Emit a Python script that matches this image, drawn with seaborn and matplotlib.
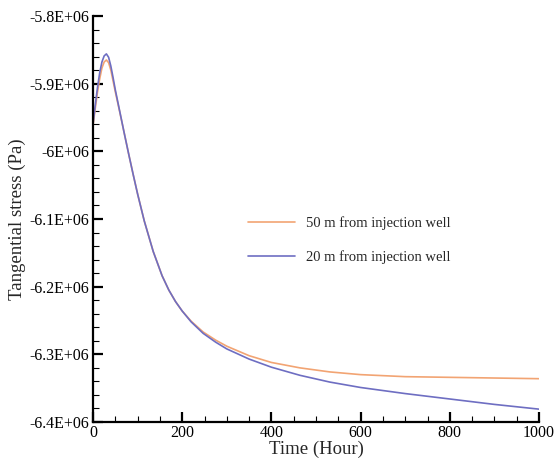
import numpy as np
import pandas as pd
import matplotlib
matplotlib.use("Agg")
import matplotlib.pyplot as plt
import seaborn as sns
from matplotlib.ticker import MultipleLocator

# values (time in hours, stress in Pa)
time_50m = [0, 5, 10, 15, 20, 25, 30, 35, 40, 45, 50, 60, 70, 80, 90, 100, 115, 135,
            155, 170, 185, 200, 220, 247, 275, 300, 350, 400, 464, 531, 600, 700, 800,
            900, 1000]
stress_50m = [-5.962e6, -5.937e6, -5.913e6, -5.893e6, -5.877e6, -5.868e6, -5.865e6,
              -5.869e6, -5.880e6, -5.896e6, -5.912e6, -5.942e6, -5.973e6, -6.004e6,
              -6.034e6, -6.063e6, -6.103e6, -6.148e6, -6.184e6, -6.205e6, -6.222e6,
              -6.236e6, -6.251e6, -6.267e6, -6.279e6, -6.288e6, -6.302e6, -6.312e6,
              -6.320e6, -6.326e6, -6.330e6, -6.333e6, -6.334e6, -6.335e6, -6.336e6]

time_20m = [0, 5, 10, 15, 20, 25, 30, 35, 40, 45, 50, 60, 70, 80, 90, 100, 115, 135,
            155, 170, 185, 200, 220, 247, 275, 300, 350, 400, 464, 531, 600, 700, 800,
            900, 1000]
stress_20m = [-5.960e6, -5.932e6, -5.906e6, -5.884e6, -5.868e6, -5.859e6, -5.856e6,
              -5.861e6, -5.874e6, -5.891e6, -5.909e6, -5.941e6, -5.973e6, -6.004e6,
              -6.034e6, -6.063e6, -6.103e6, -6.148e6, -6.184e6, -6.205e6, -6.222e6,
              -6.236e6, -6.252e6, -6.269e6, -6.282e6, -6.292e6, -6.307e6, -6.319e6,
              -6.331e6, -6.341e6, -6.349e6, -6.358e6, -6.366e6, -6.374e6, -6.381e6]

series_labels = ["50 m from injection well", "20 m from injection well"]
y_ticks = [-5.8e6, -5.9e6, -6.0e6, -6.1e6, -6.2e6, -6.3e6, -6.4e6]
y_tick_labels = ["-5.8E+06", "-5.9E+06", "-6E+06", "-6.1E+06", "-6.2E+06", "-6.3E+06", "-6.4E+06"]
x_ticks = [0, 200, 400, 600, 800, 1000]

df = pd.concat([
    pd.DataFrame({"time": time_50m, "stress": stress_50m, "series": series_labels[0]}),
    pd.DataFrame({"time": time_20m, "stress": stress_20m, "series": series_labels[1]}),
])

sns.set_theme(style="ticks")
plt.rcParams["font.family"] = ["Liberation Serif", "DejaVu Serif"]

fig = plt.figure(figsize=(5.55, 4.61), dpi=100)
ax = fig.add_axes([93 / 555, 1 - 422 / 461, 446 / 555, 406 / 461])

sns.lineplot(data=df, x="time", y="stress", hue="series", hue_order=series_labels,
             palette=["#f2a473", "#6e6ec2"], linewidth=1.2, ax=ax, sort=False)

ax.set_xlim(0, 1000)
ax.set_ylim(-6.4e6, -5.8e6)
ax.set_xticks(x_ticks)
ax.set_yticks(y_ticks)
ax.set_yticklabels(y_tick_labels)
ax.xaxis.set_minor_locator(MultipleLocator(50))
ax.yaxis.set_minor_locator(MultipleLocator(0.02e6))

ax.tick_params(which="major", direction="in", length=7, width=1.6, labelsize=11.5,
               colors="black", pad=3)
ax.tick_params(which="minor", direction="in", length=4, width=0.8, colors="black")
ax.tick_params(axis="x", which="major", pad=2)
for side in ["top", "right"]:
    ax.spines[side].set_visible(False)
for side in ["left", "bottom"]:
    ax.spines[side].set_linewidth(1.6)
    ax.spines[side].set_color("black")

ax.set_xlabel("Time (Hour)", fontsize=13.5, labelpad=0)
ax.set_ylabel("Tangential stress (Pa)", fontsize=13.5, labelpad=2)

ax.legend(loc="center left", bbox_to_anchor=(0.3475, 0.448), frameon=False,
          fontsize=10.5, handlelength=3.2, handletextpad=0.8, labelspacing=1.35,
          borderpad=0, borderaxespad=0)

fig.savefig("out.png", dpi=100)
